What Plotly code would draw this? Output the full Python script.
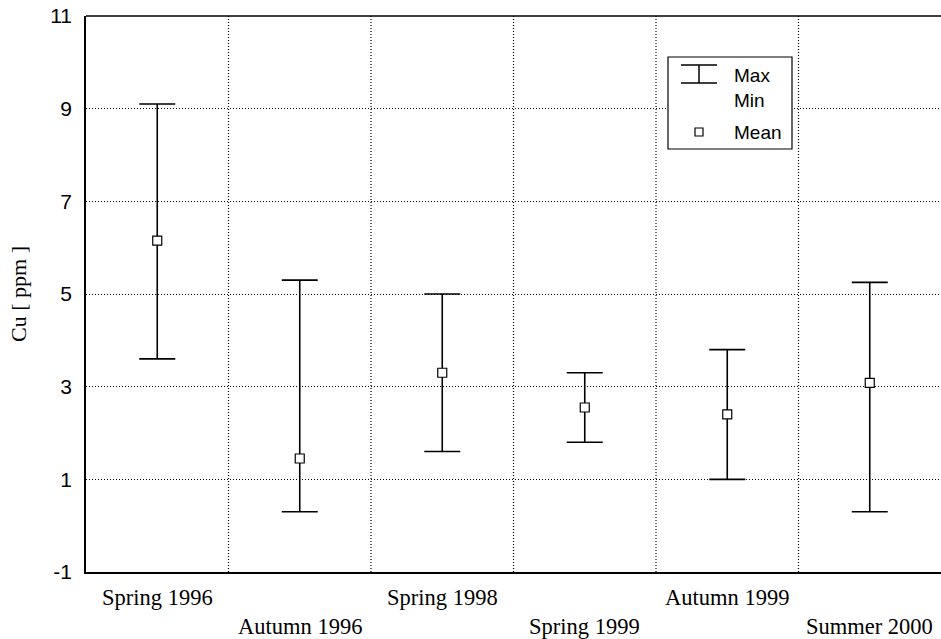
import plotly.graph_objects as go

categories = ["Spring 1996", "Autumn 1996", "Spring 1998", "Spring 1999", "Autumn 1999", "Summer 2000"]
max_vals = [9.1, 5.3, 5.0, 3.3, 3.8, 5.25]
min_vals = [3.6, 0.3, 1.6, 1.8, 1.0, 0.3]
mean_vals = [6.15, 1.45, 3.3, 2.55, 2.4, 3.08]
y_ticks = [-1, 1, 3, 5, 7, 9, 11]

xs = list(range(len(categories)))
err_plus = [mx - m for mx, m in zip(max_vals, mean_vals)]
err_minus = [m - mn for mn, m in zip(min_vals, mean_vals)]

DOT = "1px,2px"

fig = go.Figure()
fig.add_trace(go.Scatter(
    x=xs, y=mean_vals, mode="markers",
    marker=dict(symbol="square", size=9, color="white", line=dict(color="black", width=1.2)),
    error_y=dict(type="data", symmetric=False, array=err_plus, arrayminus=err_minus,
                 color="black", thickness=1.6, width=18),
    showlegend=False,
))

# vertical dotted grid lines between categories
for i in range(len(categories) - 1):
    fig.add_shape(type="line", xref="x", yref="paper", x0=i + 0.5, x1=i + 0.5, y0=0, y1=1,
                  line=dict(color="black", width=1.2, dash=DOT), layer="below")

# category labels in two staggered rows
for i, c in enumerate(categories):
    fig.add_annotation(x=i, y=0, xref="x", yref="paper", text=c, showarrow=False,
                       yanchor="middle", yshift=-25 if i % 2 == 0 else -54,
                       font=dict(family="Liberation Serif", size=22.5, color="black"))

# legend box (drawn manually)
L = dict(xref="paper", yref="paper")
W, H = 855.0, 556.0
def px(x):
    return (x - 86) / W
def py(y):
    return 1 - (y - 16) / H
fig.add_shape(type="rect", x0=px(668), x1=px(792), y0=py(57), y1=py(149),
              line=dict(color="black", width=1.2), fillcolor="white", **L)
fig.add_shape(type="line", x0=px(681), x1=px(717), y0=py(65), y1=py(65), line=dict(color="black", width=1.5), **L)
fig.add_shape(type="line", x0=px(681), x1=px(717), y0=py(83), y1=py(83), line=dict(color="black", width=1.5), **L)
fig.add_shape(type="line", x0=px(699), x1=px(699), y0=py(65), y1=py(83), line=dict(color="black", width=1.5), **L)
fig.add_shape(type="rect", x0=px(695), x1=px(703), y0=py(128), y1=py(136),
              line=dict(color="black", width=1.2), fillcolor="white", **L)
for txt, yy in [("Max", 75), ("Min", 101), ("Mean", 132)]:
    fig.add_annotation(x=px(732), y=py(yy), text=txt, showarrow=False, xanchor="left", yanchor="middle",
                       font=dict(family="Liberation Sans", size=19, color="black"), **L)

fig.update_xaxes(range=[-0.5, 5.5], showgrid=False, zeroline=False, showticklabels=False,
                 showline=True, linecolor="black", linewidth=1.5, mirror=False, ticks="")
fig.update_yaxes(range=[-1, 11], tickvals=y_ticks, ticktext=[str(v) for v in y_ticks],
                 showgrid=True, gridcolor="black", gridwidth=1.2, griddash=DOT, zeroline=False,
                 showline=True, linecolor="black", linewidth=1.5, ticks="", ticklen=0,
                 ticklabelstandoff=8,
                 tickfont=dict(family="Liberation Sans", size=21, color="black"),
                 title=dict(text="Cu [ ppm ]", font=dict(family="Liberation Serif", size=22, color="black"),
                            standoff=18))

# top border line
fig.add_shape(type="line", xref="paper", yref="paper", x0=0, x1=1, y0=1, y1=1,
              line=dict(color="black", width=1.5))

fig.update_layout(width=941, height=639, margin=dict(l=86, r=0, t=16, b=67),
                  paper_bgcolor="white", plot_bgcolor="white")
fig.write_html("out.html")
